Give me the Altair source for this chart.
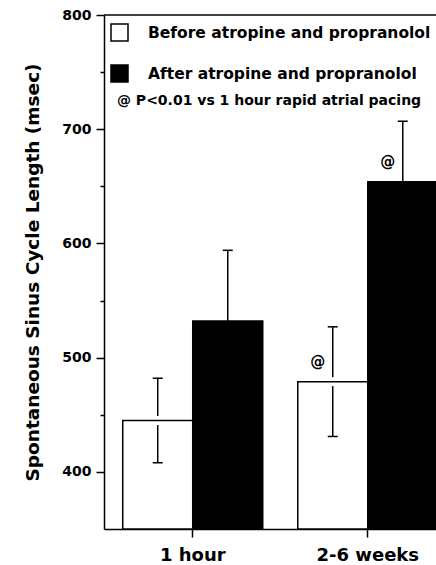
import altair as alt
import pandas as pd

# Spontaneous sinus cycle length (mean ± SD), before and after autonomic blockade
periods = ["1 hour", "1 hour", "2-6 weeks", "2-6 weeks"]
series = ["Before atropine and propranolol", "After atropine and propranolol",
          "Before atropine and propranolol", "After atropine and propranolol"]
means = [445, 532, 479, 654]
sds = [37, 62, 48, 53]
sig_marks = ["", "", "@", "@"]

SERIES_ORDER = ["Before atropine and propranolol", "After atropine and propranolol"]
PERIOD_ORDER = ["1 hour", "2-6 weeks"]
Y_MIN, Y_MAX = 350, 800
TICK_VALUES = [400, 450, 500, 550, 600, 650, 700, 750, 800]
NOTE = "@ P<0.01 vs 1 hour rapid atrial pacing"
Y_TITLE = "Spontaneous Sinus Cycle Length (msec)"
FONT = "DejaVu Sans"

df = pd.DataFrame({"period": periods, "series": series, "mean": means, "sd": sds, "sig": sig_marks})
df["lo"] = df["mean"] - df["sd"]
df["hi"] = df["mean"] + df["sd"]

x_scale = alt.Scale(range=[0, 352.5], paddingInner=0.2, paddingOuter=0.107)
x_axis = alt.Axis(title=None, labelAngle=0, labelFontSize=18, tickSize=8, labelPadding=9)
y_scale = alt.Scale(domain=[Y_MIN, Y_MAX], zero=False, nice=False)
y_axis = alt.Axis(
    title=Y_TITLE,
    values=TICK_VALUES,
    labelExpr="datum.value % 100 === 0 ? datum.label : ''",
    tickSize={"condition": {"test": "datum.value % 100 === 0", "value": 8}, "value": 4},
    labelFontSize=14,
    labelPadding=5,
    titleFontSize=18.5,
    titlePadding=19,
)

x_enc = alt.X("period:N", sort=PERIOD_ORDER, scale=x_scale, axis=x_axis)
xo_enc = alt.XOffset("series:N", sort=SERIES_ORDER, scale=alt.Scale(paddingInner=0, paddingOuter=0))

base = alt.Chart(df)

bars = base.mark_bar().encode(
    x=x_enc,
    xOffset=xo_enc,
    y=alt.Y("mean:Q", scale=y_scale, axis=y_axis),
    y2=alt.datum(Y_MIN),
    fill=alt.Fill(
        "series:N",
        sort=SERIES_ORDER,
        scale=alt.Scale(domain=SERIES_ORDER, range=["white", "black"]),
        legend=alt.Legend(
            title=None, orient="none", legendX=6, legendY=8,
            symbolType="square", symbolSize=289, symbolStrokeColor="black",
            symbolStrokeWidth=1.5, symbolOpacity=1,
            labelFont=FONT, labelFontWeight="bold", labelFontSize=15.5,
            labelColor="black", labelOffset=19, rowPadding=18, labelLimit=400,
        ),
    ),
)

err = base.mark_rule(color="black", strokeWidth=1.5).encode(
    x=x_enc, xOffset=xo_enc,
    y=alt.Y("lo:Q", scale=y_scale, axis=y_axis), y2="hi:Q",
)

# small white break in the error line where it crosses the top of an open bar
gap = base.transform_filter(alt.datum.series == SERIES_ORDER[0]).mark_tick(
    orient="vertical", color="white", size=9, thickness=4, opacity=1
).encode(x=x_enc, xOffset=xo_enc, y=alt.Y("mean:Q", scale=y_scale, axis=y_axis))

outline = base.mark_bar(fill="transparent", stroke="black", strokeWidth=1.5).encode(
    x=x_enc, xOffset=xo_enc,
    y=alt.Y("mean:Q", scale=y_scale, axis=y_axis), y2=alt.datum(Y_MIN),
)

cap_hi = base.mark_tick(color="black", size=10, thickness=1.5, opacity=1).encode(
    x=x_enc, xOffset=xo_enc, y=alt.Y("hi:Q", scale=y_scale, axis=y_axis)
)
cap_lo = base.mark_tick(color="black", size=10, thickness=1.5, opacity=1).encode(
    x=x_enc, xOffset=xo_enc, y=alt.Y("lo:Q", scale=y_scale, axis=y_axis)
)

sig = base.mark_text(font=FONT, fontSize=15, fontWeight="bold", color="black",
                     dx=-15, dy=-20, align="center", baseline="middle").encode(
    x=x_enc, xOffset=xo_enc, y=alt.Y("mean:Q", scale=y_scale, axis=y_axis), text="sig:N"
)

top_line = alt.Chart(pd.DataFrame({"v": [Y_MAX]})).mark_rule(color="black", strokeWidth=1.5).encode(
    y=alt.Y("v:Q", scale=y_scale, axis=y_axis)
)

note = alt.Chart(pd.DataFrame({"note": [NOTE]})).mark_text(
    font=FONT, fontSize=14, fontWeight="bold", color="black", align="left", baseline="middle"
).encode(x=alt.value(13), y=alt.value(86), text="note:N")

chart = (
    alt.layer(bars, err, gap, outline, cap_hi, cap_lo, sig, top_line, note)
    .properties(
        width=332, height=514,
        autosize=alt.AutoSizeParams(type="none"),
        padding={"left": 104, "top": 15, "right": 0, "bottom": 36},
        background="white",
    )
    .configure_view(stroke=None)
    .configure_axis(
        labelFont=FONT, labelFontWeight="bold", labelColor="black",
        titleFont=FONT, titleFontWeight="bold", titleColor="black",
        domainColor="black", domainWidth=1.5, tickColor="black", tickWidth=1.5,
        grid=False,
    )
)

chart.save("out.html", embed_options={"renderer": "svg", "actions": False})
